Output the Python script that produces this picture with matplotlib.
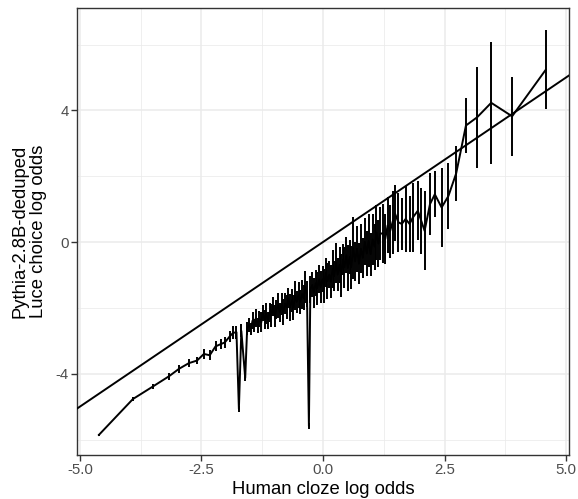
import matplotlib
matplotlib.use("Agg")
import matplotlib.pyplot as plt
from matplotlib.ticker import FixedLocator

plt.rcParams['font.family'] = ['Liberation Sans', 'DejaVu Sans']
plt.rcParams['axes.unicode_minus'] = False

# Binned human cloze log odds (x), model log odds (y) and error half-width
x_vals = [-4.61, -3.91, -3.50, -3.17, -2.96, -2.76, -2.59, -2.45, -2.33, -2.21,
          -2.10, -2.02, -1.92, -1.85, -1.78, -1.73, -1.68, -1.60, -1.56,
          -1.52, -1.48, -1.45, -1.41, -1.38, -1.34, -1.31, -1.27, -1.24, -1.20,
          -1.17, -1.13, -1.10, -1.06, -1.03, -0.99, -0.96, -0.92, -0.89, -0.85,
          -0.82, -0.78, -0.75, -0.71, -0.68, -0.64, -0.61, -0.57, -0.54, -0.50,
          -0.47, -0.43, -0.40, -0.36, -0.33, -0.29, -0.26, -0.22, -0.19, -0.15,
          -0.12, -0.08, -0.05, -0.01, 0.02, 0.06, 0.09, 0.13, 0.16, 0.20,
          0.23, 0.27, 0.30, 0.34, 0.37, 0.41, 0.44, 0.48, 0.51, 0.55,
          0.58, 0.62, 0.66, 0.70, 0.74, 0.78, 0.82, 0.86, 0.90, 0.94,
          0.98, 1.02, 1.06, 1.10, 1.14, 1.18, 1.23, 1.28, 1.33, 1.38,
          1.43, 1.48, 1.55, 1.62, 1.70, 1.78, 1.85, 1.95, 2.02, 2.09,
          2.20, 2.30, 2.44, 2.58, 2.74, 2.94, 3.17, 3.46, 3.89, 4.58]
y_vals = [-5.86, -4.77, -4.39, -4.08, -3.85, -3.68, -3.60, -3.40, -3.44, -3.17,
          -3.10, -3.05, -2.87, -2.76, -2.74, -5.07, -2.70, -4.13, -2.62,
          -2.52, -2.63, -2.39, -2.53, -2.30, -2.54, -2.34, -2.44, -2.15, -2.36,
          -2.18, -2.39, -2.14, -2.23, -1.96, -2.25, -2.05, -1.92, -2.14, -1.89,
          -2.13, -1.87, -1.98, -1.71, -1.99, -1.77, -1.99, -1.62, -1.82, -1.60,
          -1.82, -1.58, -1.70, -1.36, -1.58, -5.59, -1.44, -1.30, -1.54, -1.25,
          -1.40, -1.13, -1.37, -1.13, -1.33, -0.93, -1.19, -0.99, -1.21, -0.81,
          -1.04, -0.63, -0.99, -0.69, -1.01, -0.53, -0.77, -0.40, -0.79, -0.45,
          -0.77, -0.18, -0.59, -0.20, -0.66, -0.20, -0.48, 0.01, -0.35, 0.04,
          -0.37, 0.08, -0.14, 0.29, -0.05, 0.25, 0.27, 0.09, 0.51, 0.33,
          0.60, 0.87, 0.60, 0.55, 0.70, 0.55, 0.75, 0.95, 0.65, 0.34,
          1.15, 1.45, 1.05, 1.40, 2.09, 3.54, 3.79, 4.23, 3.82, 5.23]
err_vals = [0.03, 0.05, 0.08, 0.10, 0.12, 0.12, 0.12, 0.15, 0.15, 0.15,
            0.15, 0.17, 0.17, 0.20, 0.20, 0.10, 0.20, 0.10, 0.20,
            0.22, 0.18, 0.25, 0.20, 0.28, 0.22, 0.25, 0.30, 0.24, 0.28,
            0.32, 0.26, 0.30, 0.35, 0.28, 0.33, 0.30, 0.38, 0.30, 0.34,
            0.40, 0.32, 0.36, 0.30, 0.42, 0.35, 0.38, 0.45, 0.33, 0.40,
            0.36, 0.44, 0.38, 0.48, 0.40, 0.10, 0.42, 0.38, 0.46, 0.40,
            0.50, 0.42, 0.48, 0.40, 0.52, 0.45, 0.55, 0.42, 0.50, 0.58,
            0.46, 0.60, 0.50, 0.55, 0.65, 0.48, 0.62, 0.55, 0.70, 0.52,
            0.66, 0.95, 0.58, 0.70, 0.62, 0.75, 0.60, 0.72, 0.68, 0.80,
            0.65, 0.78, 0.70, 0.85, 0.72, 0.80, 0.90, 0.75, 0.85, 0.80,
            0.95, 0.85, 0.90, 0.80, 1.00, 0.85, 1.05, 0.90, 1.00, 1.20,
            0.95, 0.70, 1.20, 1.00, 0.84, 0.83, 1.53, 1.85, 1.20, 1.20]

x_breaks = [-5.0, -2.5, 0.0, 2.5, 5.0]
x_labels = ["-5.0", "-2.5", "0.0", "2.5", "5.0"]
y_breaks = [-4, 0, 4]
y_labels = ["-4", "0", "4"]
x_title = "Human cloze log odds"
y_title = "Pythia-2.8B-deduped\nLuce choice log odds"

fig = plt.figure(figsize=(5.78, 4.99), dpi=100)
ax = fig.add_axes([77/578, 1-455/499, (569-77)/578, (455-8)/499])

xlim = (-5.06, 5.06)
ylim = (-6.47, 7.11)
ax.set_xlim(*xlim)
ax.set_ylim(*ylim)

# grid
ax.xaxis.set_major_locator(FixedLocator(x_breaks))
ax.yaxis.set_major_locator(FixedLocator(y_breaks))
ax.xaxis.set_minor_locator(FixedLocator([-3.75, -1.25, 1.25, 3.75]))
ax.yaxis.set_minor_locator(FixedLocator([-6, -2, 2, 6]))
ax.grid(True, which='major', color='#EBEBEB', linewidth=1.1, zorder=0)
ax.grid(True, which='minor', color='#EBEBEB', linewidth=0.55, zorder=0)
ax.set_axisbelow(True)

# identity line
ax.axline((0, 0), slope=1, color='black', linewidth=1.4, zorder=3)

# data line and error bars
ax.plot(x_vals, y_vals, color='black', linewidth=1.4, zorder=4)
ax.vlines(x_vals, [y - e for y, e in zip(y_vals, err_vals)],
          [y + e for y, e in zip(y_vals, err_vals)],
          color='black', linewidth=1.4, zorder=4)

ax.set_xticks(x_breaks)
ax.set_xticklabels(x_labels)
ax.set_yticks(y_breaks)
ax.set_yticklabels(y_labels)
ax.tick_params(which='major', length=4, width=1.0, color='#333333',
               labelcolor='#4D4D4D', labelsize=10.8, pad=2)
ax.tick_params(which='minor', length=0)

for s in ax.spines.values():
    s.set_color('#333333')
    s.set_linewidth(1.0)

ax.set_xlabel(x_title, fontsize=13.3, color='black', labelpad=3)
ax.set_ylabel(y_title, fontsize=13.3, color='black', labelpad=6,
              multialignment='center', linespacing=1.15)

fig.savefig("out.png", dpi=100)
